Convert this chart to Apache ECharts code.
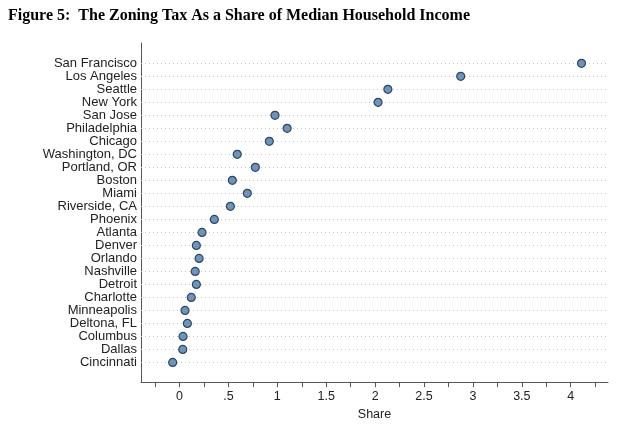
<!DOCTYPE html>
<html>
<head>
<meta charset="utf-8">
<script src="https://cdn.jsdelivr.net/npm/echarts@6/dist/echarts.min.js"></script>
<style>
html,body{margin:0;padding:0;background:#fff;}
#chart{width:623px;height:426px;}
</style>
</head>
<body>
<div id="chart"></div>
<script>
var titleText = 'Figure 5:  The Zoning Tax As a Share of Median Household Income';
var cities = ['San Francisco','Los Angeles','Seattle','New York','San Jose','Philadelphia','Chicago','Washington, DC','Portland, OR','Boston','Miami','Riverside, CA','Phoenix','Atlanta','Denver','Orlando','Nashville','Detroit','Charlotte','Minneapolis','Deltona, FL','Columbus','Dallas','Cincinnati'];
var shares = [4.11, 2.875, 2.13, 2.03, 0.976, 1.10, 0.918, 0.59, 0.775, 0.54, 0.693, 0.52, 0.356, 0.23, 0.172, 0.2, 0.16, 0.172, 0.12, 0.056, 0.08, 0.036, 0.033, -0.07];
var xLabelValues = [0, 0.5, 1, 1.5, 2, 2.5, 3, 3.5, 4];
var xTickValues = [-0.25, 0, 0.25, 0.5, 0.75, 1, 1.25, 1.5, 1.75, 2, 2.25, 2.5, 2.75, 3, 3.25, 3.5, 3.75, 4, 4.25];
var xAxisName = 'Share';

var n = cities.length;
function rowOf(i){ return n - 1 - i; }
var points = shares.map(function(v, i){ return [v, rowOf(i)]; });
var rowValues = cities.map(function(c, i){ return rowOf(i); });
var rowLines = rowValues.map(function(r){ return { yAxis: r }; });

function fmtX(v){
  var s = String(v);
  if (s.indexOf('0.') === 0) s = s.slice(1);
  return s;
}

var chart = echarts.init(document.getElementById('chart'), null, {renderer:'canvas'});
chart.setOption({
  animation: false,
  backgroundColor: '#fff',
  title: {
    text: titleText,
    left: 3, top: 3,
    textStyle: { fontFamily: 'Liberation Serif', fontWeight: 'bold', fontSize: 16, color: '#000' }
  },
  grid: { left: 141, right: 15, top: 43, bottom: 43, containLabel: false },
  xAxis: {
    type: 'value',
    min: -0.394, max: 4.381,
    name: xAxisName,
    nameLocation: 'middle',
    nameGap: 23,
    nameTextStyle: { fontFamily: 'Liberation Sans', fontSize: 12.5, color: '#222' },
    axisLine: { show: true, onZero: false, lineStyle: { color: '#555', width: 1 } },
    axisTick: { show: true, length: 5, customValues: xTickValues, lineStyle: { color: '#555' } },
    axisLabel: { customValues: xLabelValues, formatter: fmtX, margin: 8, fontFamily: 'Liberation Sans', fontSize: 12.5, color: '#222' },
    splitLine: { show: false }
  },
  yAxis: {
    type: 'value',
    min: -1.51, max: 24.56,
    axisLine: { show: true, onZero: false, lineStyle: { color: '#555', width: 1 } },
    axisTick: { show: false },
    axisLabel: {
      customValues: rowValues,
      formatter: function(v){ return cities[n - 1 - Math.round(v)]; },
      margin: 4,
      fontFamily: 'Liberation Sans', fontSize: 13, color: '#222'
    },
    splitLine: { show: false }
  },
  series: [{
    type: 'scatter',
    data: points,
    symbol: 'circle',
    symbolSize: 8,
    itemStyle: { color: '#7093b8', borderColor: '#2f4660', borderWidth: 1.2, opacity: 1 },
    z: 5,
    markLine: {
      silent: true,
      symbol: ['none','none'],
      label: { show: false },
      lineStyle: { color: '#c4c4c4', type: [1, 3], width: 1 },
      data: rowLines,
      animation: false
    }
  }]
});
</script>
</body>
</html>
